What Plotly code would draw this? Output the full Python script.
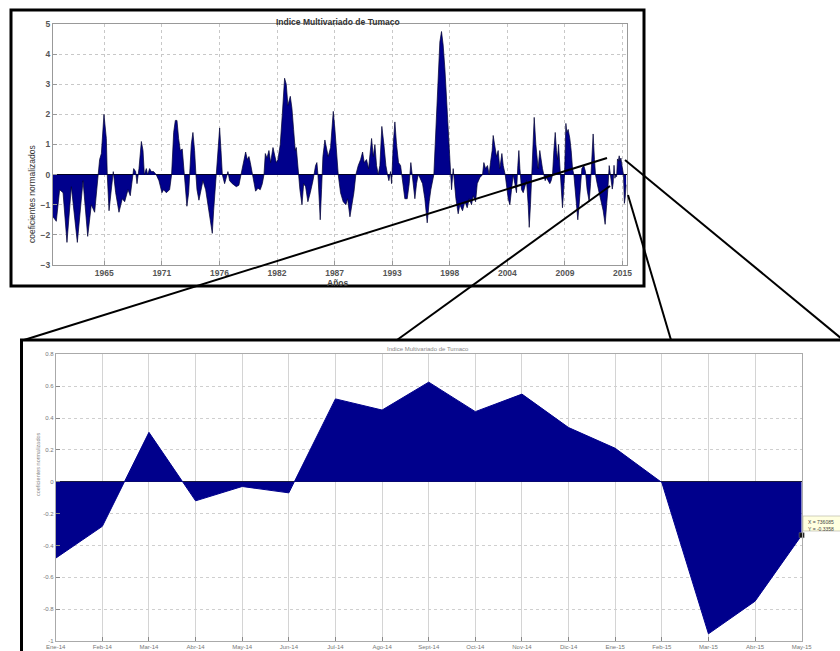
import numpy as np
import plotly.graph_objects as go

# ---------------- DATA ----------------
# Top chart: multivariate index for Tumaco, 1960 - 2013 (vertices, decimal years)
top_years = [
    1960.00, 1960.32, 1960.64, 1960.97, 1961.35, 1961.77, 1962.35, 1962.90, 1963.35, 1963.70,
    1964.02, 1964.25, 1964.38, 1964.50, 1964.67, 1964.92, 1965.15, 1965.24, 1965.41, 1965.63,
    1965.82, 1966.05, 1966.37, 1966.69, 1966.92, 1967.24, 1967.46, 1967.79, 1967.98, 1968.11,
    1968.30, 1968.53, 1968.69, 1968.82, 1969.01, 1969.14, 1969.33, 1969.49, 1969.72, 1969.97,
    1970.23, 1970.52, 1970.68, 1970.94, 1971.26, 1971.45, 1971.65, 1971.81, 1971.97, 1972.13,
    1972.29, 1972.48, 1972.61, 1972.71, 1972.81, 1972.93, 1973.10, 1973.19, 1973.35, 1973.51,
    1973.67, 1973.80, 1973.90, 1974.09, 1974.29, 1974.48, 1974.74, 1974.96, 1975.19, 1975.38,
    1975.51, 1975.77, 1976.09, 1976.22, 1976.35, 1976.57, 1976.73, 1976.89, 1977.05, 1977.31,
    1977.70, 1977.95, 1978.15, 1978.34, 1978.60, 1978.76, 1978.92, 1979.05, 1979.24, 1979.37,
    1979.56, 1979.79, 1980.01, 1980.21, 1980.37, 1980.50, 1980.66, 1980.85, 1981.01, 1981.24,
    1981.40, 1981.56, 1981.72, 1981.94, 1982.14, 1982.36, 1982.52, 1982.68, 1982.91, 1983.07,
    1983.23, 1983.39, 1983.49, 1983.68, 1983.84, 1984.04, 1984.20, 1984.39, 1984.61, 1984.84,
    1985.10, 1985.35, 1985.48, 1985.58, 1985.68, 1985.80, 1985.93, 1986.06, 1986.25, 1986.57,
    1986.80, 1987.06, 1987.22, 1987.38, 1987.54, 1987.76, 1988.02, 1988.28, 1988.44, 1988.67,
    1988.89, 1989.05, 1989.24, 1989.47, 1989.70, 1989.89, 1990.05, 1990.27, 1990.47, 1990.60,
    1990.76, 1990.92, 1991.08, 1991.24, 1991.40, 1991.56, 1991.75, 1991.95, 1992.14, 1992.30,
    1992.43, 1992.59, 1992.69, 1992.85, 1993.01, 1993.17, 1993.36, 1993.56, 1993.68, 1993.81,
    1993.97, 1994.20, 1994.39, 1994.55, 1994.71, 1994.94, 1995.10, 1995.26, 1995.42, 1995.68,
    1995.90, 1996.13, 1996.32, 1996.48, 1996.77, 1996.97, 1997.19, 1997.35, 1997.51, 1997.67,
    1997.84, 1998.06, 1998.25, 1998.38, 1998.48, 1998.64, 1998.74, 1998.90, 1999.12, 1999.28,
    1999.54, 1999.77, 1999.99, 2000.18, 2000.41, 2000.57, 2000.80, 2000.96, 2001.21, 2001.47,
    2001.60, 2001.76, 2001.95, 2002.11, 2002.24, 2002.40, 2002.50, 2002.66, 2002.82, 2002.98,
    2003.14, 2003.34, 2003.47, 2003.66, 2003.79, 2003.95, 2004.11, 2004.27, 2004.43, 2004.59,
    2004.75, 2004.88, 2004.98, 2005.08, 2005.24, 2005.40, 2005.56, 2005.72, 2005.88, 2005.98,
    2006.10, 2006.23, 2006.36, 2006.46, 2006.62, 2006.75, 2006.84, 2007.00, 2007.13, 2007.26,
    2007.39, 2007.52, 2007.65, 2007.81, 2007.97, 2008.10, 2008.23, 2008.36, 2008.49, 2008.61,
    2008.71, 2008.81, 2008.97, 2009.07, 2009.19, 2009.29, 2009.39, 2009.52, 2009.61, 2009.74,
    2009.90, 2010.03, 2010.16, 2010.29, 2010.42, 2010.54, 2010.67, 2010.80, 2010.93, 2011.06,
    2011.25, 2011.41, 2011.57, 2011.77, 2011.90, 2011.99, 2012.15, 2012.28, 2012.38, 2012.54,
    2012.73, 2012.89, 2013.12, 2013.31, 2013.44, 2013.57, 2013.70, 2013.83,
]
top_values = [
    -1.40, -1.55, -0.50, -0.60, -2.25, -0.40, -2.25, -0.20, -2.05, -1.00,
    -1.25, -0.30, 0.00, 0.50, 0.70, 2.00, 1.20, 0.00, -1.20, -0.40,
    0.10, -0.60, -1.25, -0.80, -0.90, -0.50, -0.70, 0.20, 0.10, -0.30,
    0.20, 1.10, 0.80, 0.00, 0.20, 0.00, 0.20, 0.10, 0.10, 0.00,
    -0.20, -0.60, -0.50, -0.60, -0.50, 0.00, 1.40, 1.80, 1.80, 1.20,
    0.80, 0.85, 0.30, 0.00, -0.50, -1.05, -0.60, 0.00, 1.00, 1.40,
    0.80, 0.00, -0.50, -0.85, -0.50, -0.20, -0.50, -1.00, -1.50, -1.95,
    -1.20, 0.00, 1.55, 0.80, 0.00, -0.30, -0.10, 0.10, -0.20, -0.30,
    -0.40, -0.35, 0.00, 0.30, 0.75, 0.50, 0.60, 0.40, 0.00, -0.30,
    -0.55, -0.45, -0.50, -0.30, 0.00, 0.70, 0.55, 0.80, 0.40, 0.90,
    0.60, 0.40, 0.50, 1.00, 2.00, 3.20, 3.00, 2.30, 2.60, 2.20,
    1.50, 0.80, 0.90, 0.00, -0.50, -1.00, -0.30, -0.40, -0.90, -0.60,
    -0.20, 0.30, 0.40, 0.00, -1.00, -1.50, -0.50, 0.60, 1.15, 0.60,
    0.90, 2.10, 1.50, 0.80, 0.00, -0.60, -0.90, -1.00, -0.80, -1.40,
    -1.00, -0.60, 0.00, 0.30, 0.50, 0.75, 0.40, 0.50, 0.20, 0.60,
    1.20, 0.60, 1.00, 0.30, 0.00, 0.30, 1.60, 1.00, 0.30, 0.00,
    -0.20, 0.10, -0.30, 1.00, 1.75, 1.00, 0.40, 0.30, 0.00, -0.50,
    -0.80, -0.80, -0.30, 0.40, -0.20, -0.80, -0.30, 0.00, -0.10, -0.30,
    -0.80, -1.60, -0.90, -0.50, 0.00, 1.50, 3.00, 4.40, 4.75, 4.30,
    3.50, 2.00, 1.00, 0.00, -0.50, 0.20, -0.30, -0.80, -1.30, -1.00,
    -1.20, -0.90, -1.10, -0.80, -1.00, -0.70, -0.90, -0.30, -0.10, 0.00,
    0.40, 0.20, 0.30, 0.00, 0.40, 0.80, 1.30, 0.90, 0.60, 0.80,
    0.20, 0.70, 0.30, 0.00, -0.30, -0.80, -1.00, -0.50, 0.00, -0.30,
    -0.60, 0.30, 0.80, 0.20, -0.50, -0.60, -0.40, -0.20, -1.00, -1.75,
    -1.00, 0.00, 1.00, 1.90, 1.00, 0.40, 0.20, 0.80, 0.40, 0.20,
    0.00, -0.20, -0.10, -0.20, -0.30, -0.20, 0.00, 0.80, 1.40, 0.80,
    0.50, 1.00, 0.00, -0.40, -1.10, -0.60, 0.00, 1.70, 1.40, 1.50,
    1.20, 0.80, 0.20, 0.00, -0.50, -1.00, -1.50, -1.00, -0.50, 0.20,
    0.30, 0.10, -0.50, -0.90, -0.30, 0.40, 1.35, 0.50, 0.00, -0.30,
    -0.60, -0.80, -1.20, -1.65, -1.20, -0.50, 0.30, -0.10,
]
top_tick_labels = ["1965", "1971", "1976", "1982", "1987", "1993", "1998", "2004", "2009", "2015"]

# Zoom chart: monthly values Jan 2014 - May 2015
zoom_months = ["Ene-14", "Feb-14", "Mar-14", "Abr-14", "May-14", "Jun-14", "Jul-14", "Ago-14",
               "Sept-14", "Oct-14", "Nov-14", "Dic-14", "Ene-15", "Feb-15", "Mar-15", "Abr-15", "May-15"]
zoom_values = [-0.48, -0.28, 0.31, -0.12, -0.03, -0.07, 0.52, 0.45,
               0.625, 0.44, 0.55, 0.34, 0.21, -0.005, -0.955, -0.75, -0.3358]
zoom_yticks = [-1, -0.8, -0.6, -0.4, -0.2, 0, 0.2, 0.4, 0.6, 0.8]
tip_x_label = "736085"

TITLE = "Indice Multivariado de Tumaco"
YTITLE = "coeficientes normalizados"
XTITLE = "Años"

# ---------------- FIGURE ----------------
W, H = 840, 651
NAVY = "#00008C"

def px(x):
    return x / W

def py(y):
    return 1 - y / H

zoom_x_years = [2014 + i / 12 for i in range(len(zoom_values))]
all_x = top_years + zoom_x_years
all_y = top_values + zoom_values

fig = go.Figure()
fig.add_trace(go.Scatter(
    x=all_x, y=all_y, xaxis="x", yaxis="y", mode="lines",
    line=dict(color="#000030", width=0.7), fill="tozeroy", fillcolor=NAVY,
    hoverinfo="skip"))

zx = list(range(len(zoom_values)))
fig.add_trace(go.Scatter(
    x=zx, y=zoom_values, xaxis="x2", yaxis="y2", mode="lines",
    line=dict(color=NAVY, width=1), fill="tozeroy", fillcolor=NAVY,
    hoverinfo="skip"))
# data-tip marker on last point
fig.add_trace(go.Scatter(
    x=[zx[-1]], y=[zoom_values[-1]], xaxis="x2", yaxis="y2", mode="markers",
    marker=dict(symbol="square", size=5, color="#111", line=dict(color="#888", width=0.5)),
    cliponaxis=False, hoverinfo="skip"))

tick_font_top = dict(family="Liberation Sans, Arial", size=8.5, color="#555", weight="bold")
tick_font_bot = dict(family="Liberation Sans, Arial", size=6, color="#777")

top_tickvals = list(np.linspace(1964.95, 2014.99, len(top_tick_labels)))

fig.update_layout(
    width=W, height=H, autosize=False,
    margin=dict(l=0, r=0, t=0, b=0, pad=0, autoexpand=False),
    paper_bgcolor="white", plot_bgcolor="white", showlegend=False,
    xaxis=dict(domain=[px(53), px(627)], range=[1960.0, 2015.42],
               tickvals=top_tickvals, ticktext=top_tick_labels,
               showgrid=True, gridcolor="#c8c8c8", griddash="dot", gridwidth=1,
               showline=True, linecolor="#999", linewidth=1, mirror=True,
               ticks="inside", ticklen=4, tickcolor="#999",
               tickfont=tick_font_top, zeroline=False, anchor="y", automargin=False),
    yaxis=dict(domain=[py(265), py(24)], range=[-3, 5], dtick=1,
               showgrid=True, gridcolor="#c8c8c8", griddash="dot", gridwidth=1,
               showline=True, linecolor="#999", linewidth=1, mirror=True,
               ticks="inside", ticklen=4, tickcolor="#999",
               tickfont=tick_font_top, zeroline=True, zerolinecolor="#000",
               zerolinewidth=1, anchor="x", automargin=False),
    xaxis2=dict(domain=[px(55.7), px(801.7)], range=[0, 16],
                tickvals=zx, ticktext=zoom_months,
                showgrid=True, gridcolor="#d4d4d4", gridwidth=1,
                showline=True, linecolor="#aaa", linewidth=1, mirror=True,
                ticks="inside", ticklen=4, tickcolor="#888",
                tickfont=tick_font_bot, zeroline=False, anchor="y2", automargin=False),
    yaxis2=dict(domain=[py(641), py(354.3)], range=[-1, 0.8],
                tickvals=zoom_yticks, ticktext=[f"{v:g}" for v in zoom_yticks],
                showgrid=True, gridcolor="#cfcfcf", griddash="dot", gridwidth=1,
                showline=True, linecolor="#aaa", linewidth=1, mirror=True,
                ticks="inside", ticklen=4, tickcolor="#888",
                tickfont=tick_font_bot, zeroline=True, zerolinecolor="#222",
                zerolinewidth=1, anchor="x2", automargin=False),
)

annotations = [
    dict(text=TITLE, x=px(338), y=py(15), xref="paper", yref="paper",
         showarrow=False, font=dict(family="Liberation Sans, Arial", size=8.5, color="#333", weight="bold")),
    dict(text=XTITLE, x=px(338), y=py(283), xref="paper", yref="paper",
         showarrow=False, font=dict(family="Liberation Sans, Arial", size=8.5, color="#444", weight="bold")),
    dict(text=YTITLE, x=px(25), y=py(143), xref="paper", yref="paper", textangle=-90,
         showarrow=False, font=dict(family="Liberation Sans Narrow, Liberation Sans, Arial", size=8.5, color="#333")),
    dict(text=TITLE, x=px(428), y=py(348.5), xref="paper", yref="paper",
         showarrow=False, font=dict(family="Liberation Sans, Arial", size=6, color="#888")),
    dict(text=YTITLE, x=px(33), y=py(498), xref="paper", yref="paper", textangle=-90,
         showarrow=False, font=dict(family="Liberation Sans Narrow, Liberation Sans, Arial", size=5.5, color="#888")),
    dict(text=XTITLE, x=px(428), y=py(648), xref="paper", yref="paper", yanchor="top",
         showarrow=False, font=dict(family="Liberation Sans, Arial", size=6, color="#999")),
    dict(text=f"X = {tip_x_label}<br>Y = {zoom_values[-1]:.4f}", x=px(806), y=py(517),
         xref="paper", yref="paper", xanchor="left", yanchor="top", align="left",
         showarrow=False, font=dict(family="Liberation Sans, Arial", size=5, color="#444")),
]
fig.update_layout(annotations=annotations)

shapes = [
    # data tip box
    dict(type="rect", xref="paper", yref="paper", x0=px(803), x1=px(848), y0=py(531), y1=py(516),
         fillcolor="#ffffe0", line=dict(color="#b0b0a0", width=0.6), layer="above"),
    # frames
    dict(type="rect", xref="paper", yref="paper", x0=px(11), x1=px(644), y0=py(286), y1=py(10),
         line=dict(color="black", width=3), layer="above"),
    dict(type="rect", xref="paper", yref="paper", x0=px(21.5), x1=px(860), y0=py(680), y1=py(340),
         line=dict(color="black", width=3), layer="above"),
    # zoom connector lines
    dict(type="line", xref="paper", yref="paper", x0=px(24), y0=py(340), x1=px(607), y1=py(158),
         line=dict(color="black", width=2), layer="above"),
    dict(type="line", xref="paper", yref="paper", x0=px(397), y0=py(340), x1=px(610), y1=py(186),
         line=dict(color="black", width=2), layer="above"),
    dict(type="line", xref="paper", yref="paper", x0=px(625), y0=py(160), x1=px(842), y1=py(339),
         line=dict(color="black", width=2), layer="above"),
    dict(type="line", xref="paper", yref="paper", x0=px(628), y0=py(195), x1=px(671), y1=py(340),
         line=dict(color="black", width=2), layer="above"),
]
fig.update_layout(shapes=shapes)

fig.write_html(
    "out.html",
    config={"responsive": False, "displayModeBar": False},
    post_script="document.body.style.margin='0px';document.body.style.overflow='hidden';",
)
